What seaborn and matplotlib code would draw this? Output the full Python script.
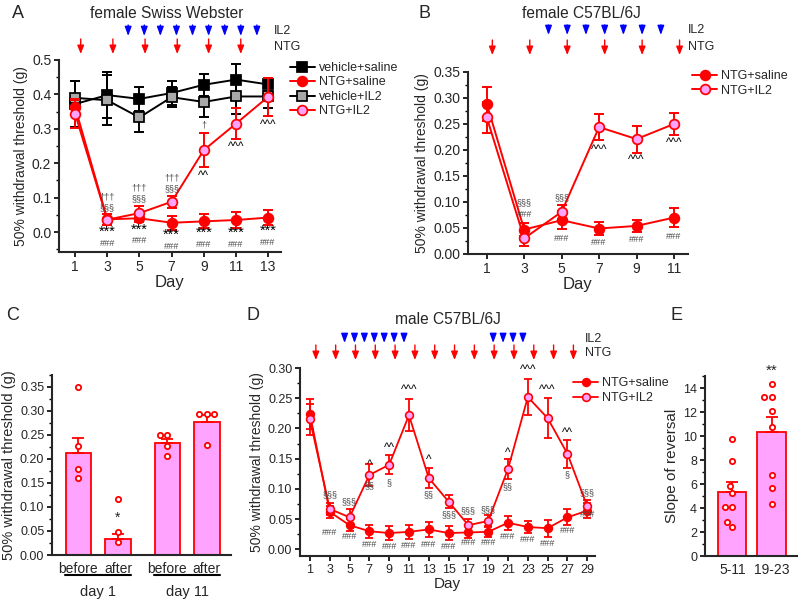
"""
Mechanical threshold time courses and reversal slopes (panels A-E).

"""
import numpy as np
import pandas as pd
import matplotlib
matplotlib.use('Agg')
import matplotlib.pyplot as plt
from matplotlib.ticker import MultipleLocator
import seaborn as sns

sns.set_style('ticks')
plt.rcParams['font.family'] = ['Liberation Sans', 'DejaVu Sans']

RED = '#ff0000'
PINK = '#ffa3ff'
GREY = '#a8a8a8'
BLUE = '#0000ff'
DARK = '#4a4a4a'
YLABEL = '50% withdrawal threshold (g)'

# ---- panel A: female Swiss Webster
days_a = [1, 3, 5, 7, 9, 11, 13]
veh_sal_a = [0.372, 0.398, 0.387, 0.404, 0.428, 0.443, 0.429]
veh_sal_a_sem = [0.068, 0.068, 0.035, 0.036, 0.032, 0.046, 0.018]
ntg_sal_a = [0.363, 0.037, 0.040, 0.027, 0.031, 0.035, 0.042]
ntg_sal_a_sem = [0.020, 0.016, 0.012, 0.020, 0.020, 0.022, 0.021]
veh_il2_a = [0.390, 0.383, 0.333, 0.392, 0.378, 0.394, 0.394]
veh_il2_a_sem = [0.050, 0.072, 0.043, 0.030, 0.043, 0.050, 0.034]
ntg_il2_a = [0.344, 0.036, 0.055, 0.088, 0.238, 0.315, 0.393]
ntg_il2_a_sem = [0.043, 0.016, 0.020, 0.017, 0.050, 0.046, 0.055]
il2_doses_a = [4.3, 5.3, 6.3, 7.3, 8.3, 9.3, 10.3, 11.3, 12.3]
ntg_doses_a = [1.35, 3.35, 5.35, 7.35, 9.3, 11.3]
notes_a = [
    (3, 0.102, '†††', 'small'), (3, 0.072, '§§§', 'small'), (3, 0.000, '***', 'star'), (3, -0.034, '###', 'small'),
    (5, 0.127, '†††', 'small'), (5, 0.096, '§§§', 'small'), (5, 0.008, '***', 'star'), (5, -0.026, '###', 'small'),
    (7, 0.156, '†††', 'small'), (7, 0.127, '§§§', 'small'), (7, -0.008, '***', 'star'), (7, -0.042, '###', 'small'),
    (9, 0.311, '†', 'small'), (9, 0.163, '^^', 'caret'), (9, -0.003, '***', 'star'), (9, -0.037, '###', 'small'),
    (11, 0.248, '^^^', 'caret'), (11, -0.001, '***', 'star'), (11, -0.035, '###', 'small'),
    (13, 0.311, '^^^', 'caret'), (13, 0.004, '***', 'star'), (13, -0.030, '###', 'small'),
]

# ---- panel B: female C57BL/6J
days_b = [1, 3, 5, 7, 9, 11]
ntg_sal_b = [0.289, 0.047, 0.065, 0.049, 0.054, 0.070]
ntg_sal_b_sem = [0.033, 0.013, 0.017, 0.012, 0.011, 0.019]
ntg_il2_b = [0.263, 0.030, 0.081, 0.244, 0.221, 0.250]
ntg_il2_b_sem = [0.030, 0.015, 0.014, 0.025, 0.026, 0.021]
il2_doses_b = [4.3, 5.3, 6.3, 7.3, 8.3, 9.3, 10.3]
ntg_doses_b = [1.3, 3.3, 5.3, 7.3, 9.3, 11.3]
notes_b = [
    (3, 0.098, '§§§', 'small'), (3, 0.076, '###', 'small'),
    (5, 0.109, '§§§', 'small'), (5, 0.029, '###', 'small'),
    (7, 0.200, '^^^', 'caret'), (7, 0.022, '###', 'small'),
    (9, 0.180, '^^^', 'caret'), (9, 0.028, '###', 'small'),
    (11, 0.213, '^^^', 'caret'), (11, 0.034, '###', 'small'),
]

# ---- panel C: before / after on day 1 and day 11
c_labels = ['before', 'after', 'before', 'after']
c_pos = [0, 1, 2.25, 3.25]
c_mean = [0.212, 0.034, 0.233, 0.276]
c_sem = [0.031, 0.009, 0.008, 0.014]
c_points = [
    [0.350, 0.226, 0.178, 0.159],
    [0.116, 0.048, 0.028],
    [0.249, 0.249, 0.227, 0.206],
    [0.292, 0.292, 0.292, 0.229],
]
c_groups = ['day 1', 'day 11']

# ---- panel D: male C57BL/6J
days_d = list(range(1, 30, 2))
ntg_sal_d = [0.224, 0.062, 0.040, 0.030, 0.027, 0.029, 0.033, 0.027,
             0.028, 0.029, 0.044, 0.037, 0.035, 0.053, 0.064]
ntg_sal_d_sem = [0.025, 0.010, 0.010, 0.011, 0.012, 0.012, 0.013, 0.011,
                 0.010, 0.009, 0.012, 0.010, 0.014, 0.013, 0.012]
ntg_il2_d = [0.215, 0.067, 0.053, 0.123, 0.140, 0.222, 0.118, 0.079,
             0.040, 0.047, 0.133, 0.252, 0.217, 0.158, 0.071]
ntg_il2_d_sem = [0.025, 0.010, 0.014, 0.018, 0.016, 0.027, 0.017, 0.011,
                 0.011, 0.010, 0.017, 0.029, 0.033, 0.023, 0.010]
il2_doses_d = [4.5, 5.5, 6.5, 7.5, 8.5, 9.5, 10.5, 19.5, 20.5, 21.5, 22.5]
ntg_doses_d = [1.6, 3.6, 5.6, 7.6, 9.6, 11.6, 13.6, 15.6, 17.6, 19.6, 21.6, 23.6, 25.6, 27.6]
notes_d = [
    (3, 0.090, '§§§', 'small'), (3, 0.028, '###', 'small'),
    (5, 0.079, '§§§', 'small'), (5, 0.021, '###', 'small'),
    (7, 0.140, '^', 'caret'), (7, 0.106, '§§', 'small'), (7, 0.008, '###', 'small'),
    (9, 0.168, '^^', 'caret'), (9, 0.111, '§', 'small'), (9, 0.004, '###', 'small'),
    (11, 0.263, '^^^', 'caret'), (11, 0.007, '###', 'small'),
    (13, 0.148, '^', 'caret'), (13, 0.091, '§§', 'small'), (13, 0.008, '###', 'small'),
    (15, 0.058, '§§§', 'small'), (15, 0.004, '###', 'small'),
    (17, 0.064, '§§§', 'small'), (17, 0.011, '###', 'small'),
    (19, 0.065, '§§§', 'small'), (19, 0.011, '###', 'small'),
    (21, 0.159, '^', 'caret'), (21, 0.104, '§§', 'small'), (21, 0.021, '###', 'small'),
    (23, 0.297, '^^^', 'caret'), (23, 0.017, '###', 'small'),
    (25, 0.264, '^^^', 'caret'), (25, 0.009, '###', 'small'),
    (27, 0.193, '^^', 'caret'), (27, 0.123, '§', 'small'), (27, 0.032, '###', 'small'),
    (29, 0.093, '§§§', 'small'), (29, 0.058, '###', 'small'),
]

# ---- panel E: slope of reversal
e_labels = ['5-11', '19-23']
e_mean = [5.3, 10.35]
e_sem = [0.9, 1.25]
e_points = [
    [9.75, 7.9, 5.83, 5.28, 4.11, 4.11, 2.86, 2.45],
    [14.3, 13.25, 13.25, 12.08, 10.78, 6.78, 5.69, 4.33],
]

STYLES = {
    'veh_sal': dict(line='black', face='black', edge='black', marker='s', z=3),
    'veh_il2': dict(line='black', face=GREY, edge='black', marker='s', z=3),
    'ntg_sal': dict(line=RED, face=RED, edge=RED, marker='o', z=4),
    'ntg_il2': dict(line=RED, face=PINK, edge=RED, marker='o', z=5),
}
NOTE_STYLE = {
    'small': dict(fontsize=6.6, color=DARK),
    'star': dict(fontsize=10.5, color='black'),
    'caret': dict(fontsize=8.5, color='black'),
}


def px_y(py):
    return 1 - py / 603.0


def style_axis(ax, tick_fs):
    sns.despine(ax=ax)
    for side in ['left', 'bottom']:
        ax.spines[side].set_linewidth(1.5)
    ax.tick_params(which='major', length=3.5, width=1.2, labelsize=tick_fs, pad=2, color='black')
    ax.tick_params(which='minor', length=2, width=1.0, color='black')


def time_course(ax, days, series, ms, cap, lw):
    for label, mean, sem, key in series:
        st = STYLES[key]
        ax.errorbar(days, mean, yerr=sem, fmt='none', ecolor=st['line'], elinewidth=lw,
                    capsize=cap, capthick=lw, zorder=st['z'])
        sns.lineplot(x=days, y=mean, ax=ax, color=st['line'], lw=lw, marker=st['marker'],
                     ms=ms, mfc=st['face'], mec=st['edge'], mew=lw * 0.9, label=label,
                     zorder=st['z'] + 0.1)


def doses(ax, il2, ntg, il2_top, il2_bot, ntg_top, ntg_bot, label_x, fs):
    for d in il2:
        ax.annotate('', xy=(d, px_y(il2_bot)), xytext=(d, px_y(il2_top)),
                    xycoords=('data', 'figure fraction'), textcoords=('data', 'figure fraction'),
                    arrowprops=dict(arrowstyle='-|>,head_length=0.55,head_width=0.2', color=BLUE,
                                    lw=1.0, shrinkA=0, shrinkB=0), annotation_clip=False)
    for d in ntg:
        ax.annotate('', xy=(d, px_y(ntg_bot)), xytext=(d, px_y(ntg_top)),
                    xycoords=('data', 'figure fraction'), textcoords=('data', 'figure fraction'),
                    arrowprops=dict(arrowstyle='-|>,head_length=0.5,head_width=0.2', color=RED,
                                    lw=1.0, shrinkA=0, shrinkB=0), annotation_clip=False)
    fig.text(label_x / 800.0, px_y((il2_top + il2_bot) / 2), 'IL2', fontsize=fs, va='center')
    fig.text(label_x / 800.0, px_y((ntg_top + ntg_bot) / 2), 'NTG', fontsize=fs, va='center')


def notes(ax, items):
    for day, y, text, kind in items:
        ax.text(day, y, text, ha='center', va='center', zorder=6, **NOTE_STYLE[kind])


def legend(ax, anchor, fs):
    ax.legend(loc='upper left', bbox_to_anchor=anchor, frameon=False, fontsize=fs,
              borderpad=0, borderaxespad=0, handlelength=2.0, handletextpad=0.3,
              labelspacing=0.2)


fig = plt.figure(figsize=(8, 6.03), dpi=100)

# ---------------- A
ax = fig.add_axes([0.07375, 0.5821, 0.2775, 0.3184])
time_course(ax, days_a, [
    ('vehicle+saline', veh_sal_a, veh_sal_a_sem, 'veh_sal'),
    ('NTG+saline', ntg_sal_a, ntg_sal_a_sem, 'ntg_sal'),
    ('vehicle+IL2', veh_il2_a, veh_il2_a_sem, 'veh_il2'),
    ('NTG+IL2', ntg_il2_a, ntg_il2_a_sem, 'ntg_il2'),
], ms=7, cap=3.6, lw=1.4)
ax.set_xlim(0, 13.8)
ax.set_ylim(-0.058, 0.5)
ax.set_xticks(days_a)
ax.set_yticks(np.arange(0, 0.51, 0.1))
ax.yaxis.set_minor_locator(MultipleLocator(0.05))
ax.set_yticklabels(['0.0', '0.1', '0.2', '0.3', '0.4', '0.5'])
ax.set_xlabel('Day', fontsize=12, labelpad=1)
ax.set_ylabel(YLABEL, fontsize=10, labelpad=3)
style_axis(ax, 10)
notes(ax, notes_a)
legend(ax, (1.04, 0.99), 9)
doses(ax, il2_doses_a, ntg_doses_a, 25, 36, 39, 54, 274, 9)
fig.text(18 / 800, px_y(13), 'A', fontsize=13, ha='center', va='center')
fig.text(167 / 800, px_y(13), 'female Swiss Webster', fontsize=11.2, ha='center', va='center')

# ---------------- B
ax = fig.add_axes([0.585, 0.5788, 0.275, 0.3018])
time_course(ax, days_b, [
    ('NTG+saline', ntg_sal_b, ntg_sal_b_sem, 'ntg_sal'),
    ('NTG+IL2', ntg_il2_b, ntg_il2_b_sem, 'ntg_il2'),
], ms=7, cap=3.6, lw=1.4)
ax.set_xlim(0, 11.75)
ax.set_ylim(0, 0.35)
ax.set_xticks(days_b)
ax.yaxis.set_major_locator(MultipleLocator(0.05))
ax.yaxis.set_minor_locator(MultipleLocator(0.025))
ax.yaxis.set_major_formatter(lambda v, p: '{:.2f}'.format(v))
ax.set_xlabel('Day', fontsize=12, labelpad=1)
ax.set_ylabel(YLABEL, fontsize=10, labelpad=3)
style_axis(ax, 10)
notes(ax, notes_b)
legend(ax, (1.02, 1.01), 9)
doses(ax, il2_doses_b, ntg_doses_b, 25, 35, 40, 55, 688, 9)
fig.text(425 / 800, px_y(13), 'B', fontsize=13, ha='center', va='center')
fig.text(581 / 800, px_y(13), 'female C57BL/6J', fontsize=11.2, ha='center', va='center')

# ---------------- C
ax = fig.add_axes([0.065, 0.0796, 0.2238, 0.2993])
bars_c = pd.DataFrame({'pos': c_pos, 'mean': c_mean})
sns.barplot(data=bars_c, x='pos', y='mean', native_scale=True, width=0.65, color=PINK,
            edgecolor=RED, linewidth=1.3, saturation=1, errorbar=None, ax=ax, zorder=2)
ax.errorbar(c_pos, c_mean, yerr=[np.zeros(len(c_sem)), c_sem], fmt='none', ecolor=RED,
            elinewidth=1.3, capsize=4, capthick=1.3, zorder=3)
pts_c = pd.DataFrame({'pos': np.repeat(c_pos, [len(p) for p in c_points]),
                      'val': np.concatenate(c_points)})
sns.swarmplot(data=pts_c, x='pos', y='val', native_scale=True, size=3.8, color='white',
              edgecolor=RED, linewidth=1.3, ax=ax, zorder=4)
ax.set_xlim(-0.67, 3.86)
ax.set_ylim(0, 0.375)
ax.yaxis.set_major_locator(MultipleLocator(0.05))
ax.yaxis.set_minor_locator(MultipleLocator(0.025))
ax.yaxis.set_major_formatter(lambda v, p: '{:.2f}'.format(v))
ax.set_xticks(c_pos)
ax.set_xticklabels(c_labels)
ax.set_xlabel('')
ax.set_ylabel(YLABEL, fontsize=10.5, labelpad=3)
style_axis(ax, 9)
ax.tick_params(axis='x', length=0, labelsize=10, pad=5)
ax.text(c_pos[1], 0.078, '*', ha='center', va='center', fontsize=10)
for i, grp in enumerate(c_groups):
    x0, x1 = c_pos[2 * i] - 0.34, c_pos[2 * i + 1] + 0.34
    ax.plot([x0, x1], [-0.11, -0.11], color='black', lw=1.5, clip_on=False,
            transform=ax.get_xaxis_transform())
    ax.text((c_pos[2 * i] + c_pos[2 * i + 1]) / 2, -0.205, grp, ha='center', va='center',
            fontsize=10.5, transform=ax.get_xaxis_transform())
fig.text(13 / 800, px_y(316), 'C', fontsize=13, ha='center', va='center')

# ---------------- D
ax = fig.add_axes([0.375, 0.0779, 0.369, 0.3118])
time_course(ax, days_d, [
    ('NTG+saline', ntg_sal_d, ntg_sal_d_sem, 'ntg_sal'),
    ('NTG+IL2', ntg_il2_d, ntg_il2_d_sem, 'ntg_il2'),
], ms=5.6, cap=2.9, lw=1.3)
ax.set_xlim(0, 29.8)
ax.set_ylim(-0.011, 0.30)
ax.set_xticks(days_d)
ax.yaxis.set_major_locator(MultipleLocator(0.05))
ax.yaxis.set_minor_locator(MultipleLocator(0.025))
ax.yaxis.set_major_formatter(lambda v, p: '{:.2f}'.format(v))
ax.set_xlabel('Day', fontsize=11, labelpad=1)
ax.set_ylabel(YLABEL, fontsize=10, labelpad=3)
style_axis(ax, 9)
notes(ax, notes_d)
legend(ax, (0.925, 0.95), 9)
doses(ax, il2_doses_d, ntg_doses_d, 334, 343, 345, 360, 585, 9)
fig.text(253 / 800, px_y(316), 'D', fontsize=13, ha='center', va='center')
fig.text(448 / 800, px_y(319), 'male C57BL/6J', fontsize=11.2, ha='center', va='center')

# ---------------- E
ax = fig.add_axes([0.881, 0.0779, 0.115, 0.2985])
bars_e = pd.DataFrame({'grp': e_labels, 'mean': e_mean})
sns.barplot(data=bars_e, x='grp', y='mean', width=0.72, color=PINK, edgecolor=RED,
            linewidth=1.3, saturation=1, errorbar=None, ax=ax, zorder=2)
ax.errorbar([0, 1], e_mean, yerr=[np.zeros(len(e_sem)), e_sem], fmt='none', ecolor=RED,
            elinewidth=1.3, capsize=4, capthick=1.3, zorder=3)
pts_e = pd.DataFrame({'grp': np.repeat(e_labels, [len(p) for p in e_points]),
                      'val': np.concatenate(e_points)})
sns.swarmplot(data=pts_e, x='grp', y='val', order=e_labels, size=3.8, color='white',
              edgecolor=RED, linewidth=1.3, ax=ax, zorder=4)
ax.set_xlim(-0.7, 1.64)
ax.set_ylim(0, 15)
ax.yaxis.set_major_locator(MultipleLocator(2))
ax.yaxis.set_minor_locator(MultipleLocator(1))
ax.set_xlabel('')
ax.set_ylabel('Slope of reversal', fontsize=11, labelpad=3)
style_axis(ax, 9)
ax.tick_params(axis='x', length=0, labelsize=10, pad=5)
ax.text(1, 15.4, '**', ha='center', va='center', fontsize=11, clip_on=False)
fig.text(677 / 800, px_y(316), 'E', fontsize=13, ha='center', va='center')

fig.savefig('out.png', dpi=100)
